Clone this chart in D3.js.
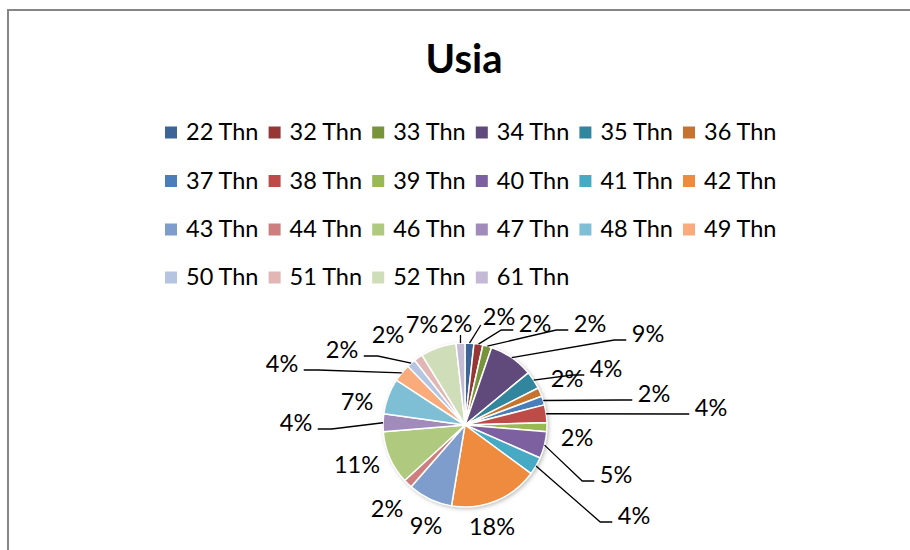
<!DOCTYPE html>
<html>
<head>
<meta charset="utf-8">
<script src="https://cdn.jsdelivr.net/npm/d3@7"></script>
<style>
  html, body { margin: 0; padding: 0; background: #fff; }
  svg { display: block; }
</style>
</head>
<body>
<svg id="chart" width="910" height="550"></svg>
<script>
// ---- data ----
const title = "Usia";
const categories = ["22 Thn","32 Thn","33 Thn","34 Thn","35 Thn","36 Thn","37 Thn","38 Thn","39 Thn","40 Thn","41 Thn","42 Thn","43 Thn","44 Thn","46 Thn","47 Thn","48 Thn","49 Thn","50 Thn","51 Thn","52 Thn","61 Thn"];
const counts = [1,1,1,5,2,1,1,2,1,3,2,10,5,1,6,2,4,2,1,1,4,1];
const colors = ["#3c6496","#963735","#77933c","#604a7b","#31859c","#c6732f",
                "#4a7ebb","#be4b48","#98b954","#7d60a0","#46aac5","#ee8b3f",
                "#7e9ccc","#ce7e7c","#afc97f","#a08bbb","#7ebfd6","#f9ab7c",
                "#b5c5e1","#e2b6b5","#cfddb8","#c4bad5"];
// label layout: offset of each label centre from the pie centre, and leader style
const labelLayout = [
  [34,-109,"up"],[70,-102,"right"],[125,-102,"right"],[183,-92,"right"],[141,-57,"right"],[102,-47,"none"],
  [189,-32,"right"],[246,-18,"right"],[112,12,"none"],[151,49,"right"],[169,90,"right"],[27,101,"none"],
  [-39,100,"none"],[-78,83,"none"],[-108,39,"none"],[-169,-3,"left"],[-108,-24,"none"],[-183,-62,"left"],
  [-123,-76,"left"],[-77,-91,"none"],[-43,-101,"none"],[-9,-102,"down"]
];

const svg = d3.select("#chart");
const font = "Lato, 'Open Sans', 'Liberation Sans', sans-serif";

// chart area border
svg.append("rect").attr("x", 8).attr("y", 10).attr("width", 940).attr("height", 600)
  .attr("fill", "#fff").attr("stroke", "#868686").attr("stroke-width", 2);

// title
svg.append("text").attr("x", 464).attr("y", 73).attr("text-anchor", "middle")
  .attr("font-family", font).attr("font-weight", "bold").attr("font-size", 40)
  .attr("fill", "#000").text(title);

// legend
const perRow = 6, colW = 103.6, legX0 = 165, rowY = [131.5, 180, 228.5, 276.5];
const leg = svg.append("g");
categories.forEach((c, i) => {
  const col = i % perRow, row = Math.floor(i / perRow);
  const x = legX0 + col * colW, y = rowY[row];
  leg.append("rect").attr("x", x).attr("y", y - 5).attr("width", 12).attr("height", 12)
    .attr("fill", colors[i]);
  leg.append("text").attr("x", x + 21).attr("y", y + 8.5)
    .attr("font-family", font).attr("font-size", 23.5).attr("fill", "#000").text(c);
});

// pie
const cx = 465, cy = 425, r = 82;
const defs = svg.append("defs");
const f = defs.append("filter").attr("id", "shadow").attr("x", "-20%").attr("y", "-20%")
  .attr("width", "140%").attr("height", "140%");
f.append("feDropShadow").attr("dx", 1.5).attr("dy", 1.5).attr("stdDeviation", 2)
  .attr("flood-color", "#000").attr("flood-opacity", 0.3);

const total = d3.sum(counts);
const pie = d3.pie().sort(null).value(d => d)(counts);
const arc = d3.arc().innerRadius(0).outerRadius(r);
const g = svg.append("g").attr("transform", `translate(${cx},${cy})`);
g.append("circle").attr("r", r).attr("fill", "#fff").attr("filter", "url(#shadow)");
g.selectAll("path.slice").data(pie).enter().append("path")
  .attr("class", "slice").attr("d", arc)
  .attr("fill", (d, i) => colors[i]).attr("stroke", "#fff").attr("stroke-width", 1.5)
  .attr("stroke-linejoin", "round");

// labels + leader lines
const fmt = v => Math.round(v / total * 100) + "%";
const lblFont = 23.5;
pie.forEach((d, i) => {
  const [dx, dy, mode] = labelLayout[i];
  const txt = g.append("text").attr("x", dx).attr("y", dy + 8.5).attr("text-anchor", "middle")
    .attr("font-family", font).attr("font-size", lblFont).attr("fill", "#000").text(fmt(d.value));
  const bw = txt.node().getComputedTextLength();
  const a = (d.startAngle + d.endAngle) / 2;
  const sx = r * Math.sin(a), sy = -r * Math.cos(a);
  let pts = null;
  if (mode === "right") {
    const ex = dx - bw / 2 - 5.5, ey = dy + 7;
    const bx = Math.max(ex - 12, sx);
    pts = [[sx, sy], [bx, ey], [ex, ey]];
  } else if (mode === "left") {
    const ex = dx + bw / 2 + 5.5, ey = dy + 7;
    const bx = Math.min(ex + 14, sx);
    pts = [[sx, sy], [bx, ey], [ex, ey]];
  } else if (mode === "up") {
    pts = [[sx, sy], [dx - bw / 2 - 2, dy + 9]];
  } else if (mode === "down") {
    pts = [[sx, sy], [sx, dy + 12]];
  }
  if (pts) {
    g.append("path").attr("d", d3.line()(pts)).attr("fill", "none")
      .attr("stroke", "#000").attr("stroke-width", 1.3);
  }
});
</script>
</body>
</html>
